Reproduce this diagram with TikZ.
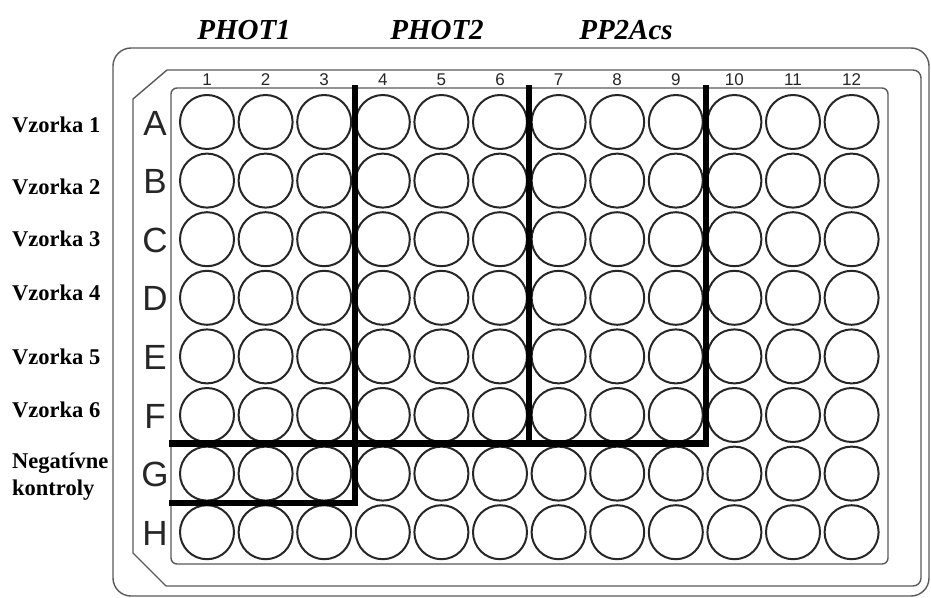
\documentclass[tikz,border=0pt]{standalone}
\usepackage{fontspec}
\setmainfont{Liberation Serif}
\newfontfamily\arialf{Liberation Sans}
\begin{document}
\begin{tikzpicture}[x=1pt,y=-1pt,
  well/.style={circle,draw=black!85,line width=2pt,minimum size=54pt,inner sep=0pt},
  plate/.style={draw=black!65,line width=1.4pt},
  divider/.style={line width=6.5pt,black,line join=miter,line cap=rect},
  rowlab/.style={font=\arialf\fontsize{35}{35}\selectfont,inner sep=0pt,text=black!85},
  collab/.style={font=\arialf\fontsize{17}{17}\selectfont,inner sep=0pt,text=black!85},
  sidelab/.style={font=\bfseries\fontsize{22.5}{26}\selectfont,inner sep=0pt},
  toplab/.style={font=\bfseries\itshape\fontsize{29}{30}\selectfont,inner sep=0pt}]
\useasboundingbox (0,0) rectangle (931,597);
% plate outlines
\draw[plate,rounded corners=18pt] (113,48) rectangle (929,596);
\draw[plate] (167,70) [rounded corners=8pt] -- (921,70) -- (921,586) [sharp corners] -- (166,586) -- (133,553) -- (133,99) -- cycle;
\draw[plate,rounded corners=6pt] (171,88) rectangle (888,564);
% wells
\foreach \r [count=\i from 0] in {A,B,C,D,E,F,G,H}{
  \node[rowlab] (r\r) at (155,{123+58.6*\i}) {\r};
  \foreach \c in {1,...,12}{
    \node[well] (w\r\c) at ({207+58.6*(\c-1)},{122+58.6*\i}) {};
  }
}
\foreach \c in {1,...,12}{
  \node[collab] (n\c) at ({207+58.6*(\c-1)},80) {\c};
}
% dividers
\coordinate (v1t) at (355,88);
\coordinate (v1b) at (355,503);
\coordinate (h2l) at (172,503);
\coordinate (v3t) at (706,88);
\coordinate (v3b) at (706,443.5);
\coordinate (h1l) at (172,443.5);
\coordinate (v2t) at (529,88);
\coordinate (v2b) at (529,443.5);
\draw[divider] (v1t) -- (v1b) -- (h2l);
\draw[divider] (v3t) -- (v3b) -- (h1l);
\draw[divider] (v2t) -- (v2b);
% labels
\node[toplab] (t1) at (244,30) {PHOT1};
\node[toplab] (t2) at (437,30) {PHOT2};
\node[toplab] (t3) at (626,30) {PP2Acs};
\node[sidelab,anchor=west] (s1) at (12,125) {Vzorka 1};
\node[sidelab,anchor=west] (s2) at (12,187) {Vzorka 2};
\node[sidelab,anchor=west] (s3) at (12,239) {Vzorka 3};
\node[sidelab,anchor=west] (s4) at (12,293) {Vzorka 4};
\node[sidelab,anchor=west] (s5) at (12,357) {Vzorka 5};
\node[sidelab,anchor=west] (s6) at (12,410) {Vzorka 6};
\node[sidelab,anchor=base west] (s7) at (12,468) {Negatívne};
\node[sidelab,anchor=base west] (s8) at (12,495) {kontroly};
\end{tikzpicture}
\end{document}
